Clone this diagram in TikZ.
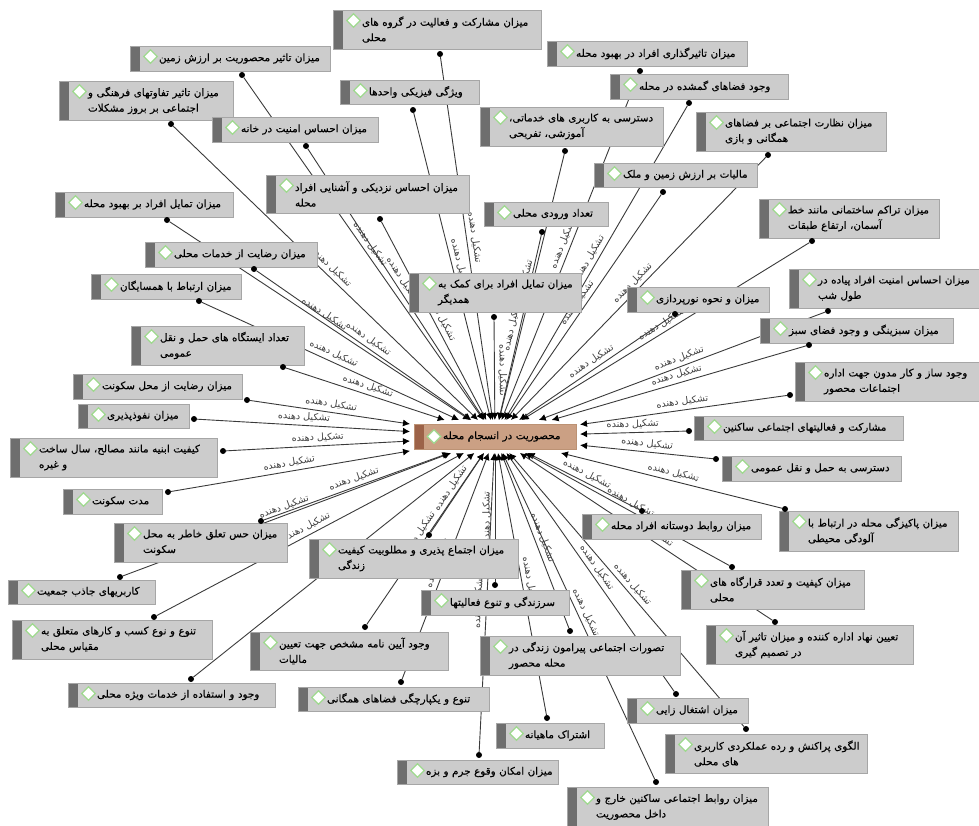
\documentclass[tikz,border=0pt]{standalone}
\usepackage{fontspec}
\usetikzlibrary{shapes.geometric,arrows.meta}
\TeXXeTstate=1
\newfontfamily\arabicfont[Script=Arabic]{DejaVu Sans}
\newfontfamily\arabicdark[Script=Arabic,FakeBold=0.2]{DejaVu Sans}
\definecolor{boxfill}{HTML}{CCCCCC}
\definecolor{boxedge}{HTML}{A6A6A6}
\definecolor{bandgray}{HTML}{6E6E6E}
\definecolor{hubfill}{HTML}{CBA084}
\definecolor{hubedge}{HTML}{BC9274}
\definecolor{hubband}{HTML}{9C6248}
\definecolor{diamedge}{HTML}{9FD98F}
\definecolor{connline}{HTML}{3A3A3A}
\definecolor{labtext}{HTML}{404040}
\pgfdeclarelayer{background}
\pgfsetlayers{background,main}
\tikzset{
  pband/.style={path picture={\fill[#1] (path picture bounding box.north west) rectangle ([xshift=10pt]path picture bounding box.south west);}},
  srcbox/.style={rectangle,draw=boxedge,fill=boxfill,line width=1pt,anchor=north west,outer sep=0pt,inner xsep=4pt,inner ysep=0pt,align=left,pband=bandgray,text=black,font=\arabicdark\fontsize{10.4}{15.5}\selectfont},
  hubbox/.style={srcbox,draw=hubedge,fill=hubfill,pband=hubband,outer sep=4pt},
  diam/.style={diamond,draw=diamedge,fill=white,line width=1.2pt,inner sep=0pt,minimum size=14pt},
  dotnode/.style={circle,fill=black,inner sep=0pt,minimum size=6pt},
  conn/.style={draw=connline,line width=0.9pt,-{Latex[length=7pt,width=7pt,black]}},
  lab/.style={midway,sloped,above,inner xsep=1.5pt,inner ysep=3.5pt,text=labtext,font=\arabicfont\fontsize{9.6}{10}\selectfont}
}
\newcommand{\AR}[1]{\hspace*{25pt}\mbox{\beginR #1\endR}}
\newcommand{\bx}[8]{%
  \pgfmathsetlengthmacro\bxw{(#4-#2)*1pt}%
  \pgfmathsetlengthmacro\bxh{(#5-#3)*1pt}%
  \pgfmathsetlengthmacro\bxt{(#4-#2-8)*1pt}%
  \node[srcbox,minimum width=\bxw,minimum height=\bxh,text width=\bxt] (b#1) at (#2,#3) {#6};
  \node[diam] (m#1) at ({#2+20.5},{#3+10.5}) {};
  \node[dotnode] (d#1) at (#7,#8) {};
}
\begin{document}
\begin{tikzpicture}[x=1pt,y=-1pt]
\useasboundingbox (0,0) rectangle (979,825);
\node[hubbox,minimum width=162pt,minimum height=25pt,text width=154pt] (hub) at (410,420) {\AR{محصوریت در انسجام محله}};
\node[diam] (hubm) at (434,436.5) {};
\bx{1}{333}{10}{541}{49}{\AR{میزان مشارکت و فعالیت در گروه های}\\\AR{محلی}}{440}{54}
\bx{2}{130}{46}{330}{71}{\AR{میزان تاثیر محصوریت بر ارزش زمین}}{242}{75}
\bx{3}{59}{81}{233}{120}{\AR{میزان تاثیر تفاوتهای فرهنگی و}\\\AR{اجتماعی بر بروز مشکلات}}{171}{124}
\bx{4}{340}{80}{479}{104}{\AR{ویژگی فیزیکی واحدها}}{413}{110}
\bx{5}{212}{117}{378}{142}{\AR{میزان احساس امنیت در خانه}}{306}{146}
\bx{6}{266}{175}{469}{213}{\AR{میزان احساس نزدیکی و آشنایی افراد}\\\AR{محله}}{380}{219}
\bx{7}{55}{192}{233}{217}{\AR{میزان تمایل افراد بر بهبود محله}}{167}{220}
\bx{8}{145}{242}{317}{267}{\AR{میزان رضایت از خدمات محلی}}{254}{269}
\bx{9}{91}{274}{241}{299}{\AR{میزان ارتباط با همسایگان}}{199}{301}
\bx{10}{409}{273}{581}{312}{\AR{میزان تمایل افراد برای کمک به}\\\AR{همدیگر}}{494}{317}
\bx{11}{547}{41}{747}{66}{\AR{میزان تاثیرگذاری افراد در بهبود محله}}{640}{71}
\bx{12}{610}{74}{788}{99}{\AR{وجود فضاهای گمشده در محله}}{689}{103}
\bx{13}{480}{107}{663}{146}{\AR{دسترسی به کاربری های خدماتی،}\\\AR{آموزشی، تفریحی}}{565}{151}
\bx{14}{696}{112}{886}{151}{\AR{میزان نظارت اجتماعی بر فضاهای}\\\AR{همگانی و بازی}}{768}{155}
\bx{15}{594}{163}{757}{187}{\AR{مالیات بر ارزش زمین و ملک}}{663}{192}
\bx{16}{484}{202}{608}{226}{\AR{تعداد ورودی محلی}}{542}{232}
\bx{17}{759}{199}{939}{238}{\AR{میزان تراکم ساختمانی مانند خط}\\\AR{آسمان، ارتفاع طبقات}}{812}{241}
\bx{18}{789}{269}{981}{308}{\AR{میزان احساس امنیت افراد پیاده در}\\\AR{طول شب}}{828}{311}
\bx{19}{627}{287}{769}{312}{\AR{میزان و نحوه نورپردازی}}{675}{314}
\bx{20}{760}{318}{953}{343}{\AR{میزان سبزینگی و وجود فضای سبز}}{809}{345}
\bx{21}{795}{362}{981}{401}{\AR{وجود ساز و کار مدون جهت اداره}\\\AR{اجتماعات محصور}}{790}{395}
\bx{22}{694}{416}{903}{440}{\AR{مشارکت و فعالیتهای اجتماعی ساکنین}}{689}{431}
\bx{23}{722}{456}{901}{481}{\AR{دسترسی به حمل و نقل عمومی}}{716}{459}
\bx{24}{779}{511}{958}{551}{\AR{میزان پاکیزگی محله در ارتباط با}\\\AR{آلودگی محیطی}}{785}{509}
\bx{25}{582}{514}{761}{539}{\AR{میزان روابط دوستانه افراد محله}}{642}{511}
\bx{26}{681}{570}{864}{609}{\AR{میزان کیفیت و تعدد قرارگاه های}\\\AR{محلی}}{732}{567}
\bx{27}{706}{625}{913}{664}{\AR{تعیین نهاد اداره کننده و میزان تاثیر آن}\\\AR{در تصمیم گیری}}{775}{622}
\bx{28}{480}{636}{680}{675}{\AR{تصورات اجتماعی پیرامون زندگی در}\\\AR{محله محصور}}{570}{631}
\bx{29}{627}{698}{748}{723}{\AR{میزان اشتغال زایی}}{676}{694}
\bx{30}{665}{734}{867}{773}{\AR{الگوی پراکنش و رده عملکردی کاربری}\\\AR{های محلی}}{746}{729}
\bx{31}{496}{723}{604}{748}{\AR{اشتراک ماهیانه}}{547}{718}
\bx{32}{397}{760}{558}{784}{\AR{میزان امکان وقوع جرم و بزه}}{479}{755}
\bx{33}{567}{787}{768}{827}{\AR{میزان روابط اجتماعی ساکنین خارج و}\\\AR{داخل محصوریت}}{656}{782}
\bx{34}{421}{590}{569}{615}{\AR{سرزندگی و تنوع فعالیتها}}{495}{585}
\bx{35}{309}{539}{518}{578}{\AR{میزان اجتماع پذیری و مطلوبیت کیفیت}\\\AR{زندگی}}{429}{535}
\bx{36}{250}{632}{448}{670}{\AR{وجود آیین نامه مشخص جهت تعیین}\\\AR{مالیات}}{365}{627}
\bx{37}{298}{687}{489}{711}{\AR{تنوع و یکپارچگی فضاهای همگانی}}{401}{682}
\bx{38}{68}{683}{275}{707}{\AR{وجود و استفاده از خدمات ویژه محلی}}{191}{679}
\bx{39}{12}{620}{212}{659}{\AR{تنوع و نوع کسب و کارهای متعلق به}\\\AR{مقیاس محلی}}{154}{617}
\bx{40}{8}{580}{155}{604}{\AR{کاربریهای جاذب جمعیت}}{120}{577}
\bx{41}{114}{523}{287}{562}{\AR{میزان حس تعلق خاطر به محل}\\\AR{سکونت}}{261}{521}
\bx{42}{63}{489}{162}{514}{\AR{مدت سکونت}}{168}{492}
\bx{43}{10}{438}{217}{477}{\AR{کیفیت ابنیه مانند مصالح، سال ساخت}\\\AR{و غیره}}{223}{451}
\bx{44}{78}{404}{189}{428}{\AR{میزان نفوذپذیری}}{194}{419}
\bx{45}{73}{374}{242}{399}{\AR{میزان رضایت از محل سکونت}}{247}{400}
\bx{46}{131}{326}{304}{365}{\AR{تعداد ایستگاه های حمل و نقل}\\\AR{عمومی}}{283}{367}
\begin{pgfonlayer}{background}
\foreach \n in {1,...,46}{
  \draw[conn] (d\n) -- node[lab]{\beginR تشکیل دهنده\endR} (hub);
}
\end{pgfonlayer}
\end{tikzpicture}
\end{document}
